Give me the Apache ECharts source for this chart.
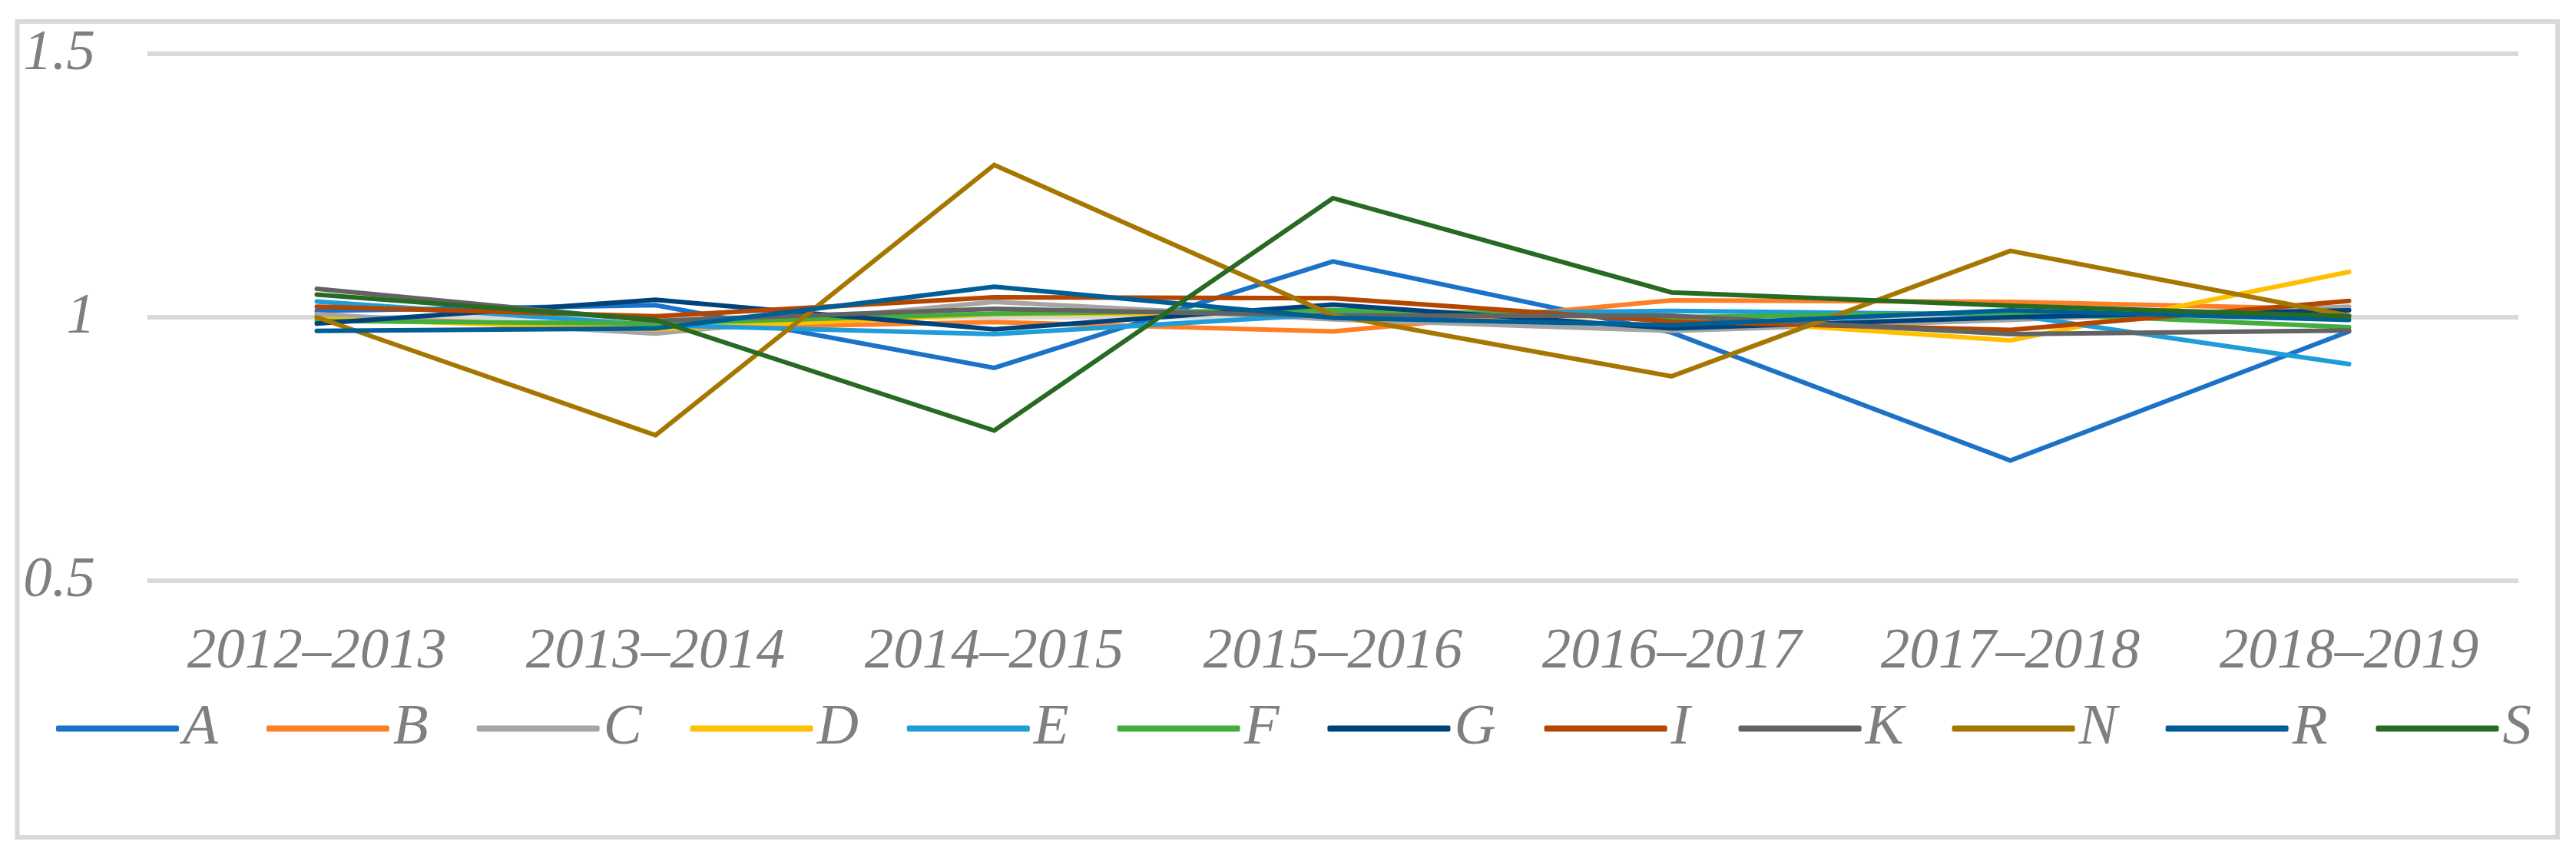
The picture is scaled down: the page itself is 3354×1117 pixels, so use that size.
<!DOCTYPE html>
<html>
<head>
<meta charset="utf-8">
<style>
html,body{margin:0;padding:0;background:#fff;}
#chart{width:3354px;height:1117px;}
</style>
<script src="https://cdn.jsdelivr.net/npm/echarts@6/dist/echarts.min.js"></script>
</head>
<body>
<div id="chart"></div>
<script>
const categories = ['2012–2013','2013–2014','2014–2015','2015–2016','2016–2017','2017–2018','2018–2019'];
const yTicks = [0.5, 1, 1.5];
const seriesNames = ['A','B','C','D','E','F','G','I','K','N','R','S'];
const A = [1.012, 1.023, 0.904, 1.106, 0.971, 0.728, 0.973];
const B = [1.002, 0.978, 0.991, 0.973, 1.032, 1.029, 1.015];
const C = [1.006, 0.969, 1.029, 0.996, 0.974, 0.995, 1.020];
const D = [0.997, 0.977, 1.006, 1.008, 1.000, 0.956, 1.086];
const E = [1.030, 0.985, 0.968, 1.006, 1.012, 1.005, 0.911];
const F = [0.993, 0.988, 1.007, 1.014, 1.000, 1.009, 0.981];
const G = [0.988, 1.033, 0.977, 1.024, 0.979, 1.000, 1.013];
const I = [1.020, 1.002, 1.038, 1.036, 0.992, 0.976, 1.031];
const K = [1.054, 0.993, 1.016, 1.003, 1.003, 0.968, 0.975];
const N = [1.000, 0.776, 1.289, 1.004, 0.888, 1.126, 1.003];
const R = [0.974, 0.979, 1.058, 0.999, 0.985, 1.013, 0.995];
const S = [1.043, 0.995, 0.785, 1.226, 1.047, 1.022, 1.002];
const seriesValues = [A, B, C, D, E, F, G, I, K, N, R, S];
const seriesColors = ['#1c72c8','#ff7f27','#a5a5a5','#ffc000','#1f9dd9','#43ad3d','#00437a','#b44600','#636363','#a67700','#005e96','#276a22'];

const font = '"Liberation Serif", "Times New Roman", serif';
const chart = echarts.init(document.getElementById('chart'), null, {renderer: 'canvas'});
chart.setOption({
  animation: false,
  backgroundColor: '#ffffff',
  color: seriesColors,
  graphic: [{
    type: 'rect',
    shape: {x: 22.5, y: 28, width: 3307.5, height: 1062},
    style: {fill: 'none', stroke: '#d9d9d9', lineWidth: 6},
    silent: true, z: -1
  }],
  grid: {left: 192, right: 75, top: 70, bottom: 361, containLabel: false},
  xAxis: {
    type: 'category',
    data: categories,
    boundaryGap: true,
    axisLine: {show: false},
    axisTick: {show: false},
    splitLine: {show: false},
    axisLabel: {
      margin: 56,
      color: '#7f7f7f',
      fontFamily: font,
      fontStyle: 'italic',
      fontSize: 75,
      interval: 0
    }
  },
  yAxis: {
    type: 'value',
    min: yTicks[0],
    max: yTicks[yTicks.length - 1],
    interval: 0.5,
    axisLine: {show: false},
    axisTick: {show: false},
    splitLine: {show: true, lineStyle: {color: '#d9d9d9', width: 6}},
    axisLabel: {
      margin: 68,
      color: '#7f7f7f',
      fontFamily: font,
      fontStyle: 'italic',
      fontSize: 75
    }
  },
  legend: {
    left: 68,
    top: 906,
    itemWidth: 160,
    itemHeight: 8,
    itemGap: 63,
    icon: 'roundRect',
    textStyle: {
      color: '#7f7f7f',
      fontFamily: font,
      fontStyle: 'italic',
      fontSize: 75
    },
    data: seriesNames
  },
  series: seriesNames.map((name, i) => ({
    name: name,
    type: 'line',
    data: seriesValues[i],
    symbol: 'none',
    lineStyle: {width: 6, color: seriesColors[i], cap: 'round', join: 'miter'},
    itemStyle: {color: seriesColors[i]}
  }))
});
</script>
</body>
</html>
